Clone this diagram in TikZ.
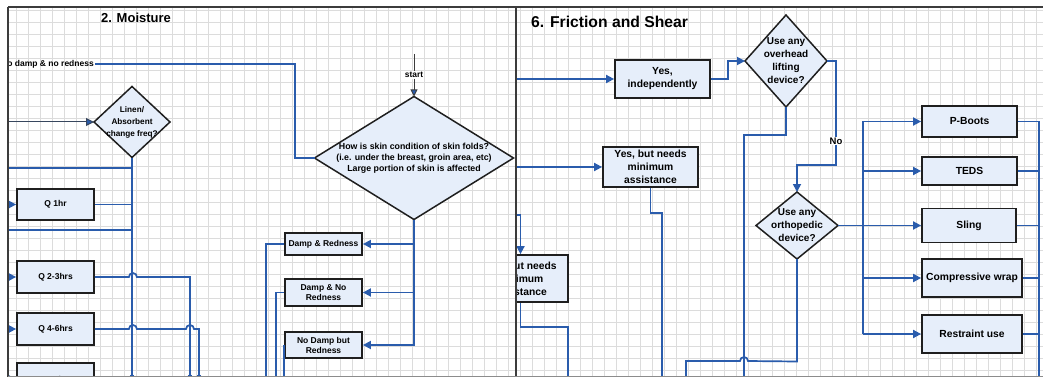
\documentclass[tikz,border=0pt]{standalone}
\usepackage{fontspec}
\setmainfont{Liberation Sans}
\usetikzlibrary{arrows.meta,shapes.geometric}
\definecolor{lnc}{RGB}{42,92,172}
\definecolor{bxc}{RGB}{230,238,250}
\definecolor{grc}{RGB}{220,220,220}
\definecolor{frc}{RGB}{60,60,60}
\begin{document}
\begin{tikzpicture}[x=1pt,y=-1pt,
  box/.style={draw=black!88,line width=1.8pt,fill=bxc,inner sep=0pt,align=center,font=\bfseries\fontsize{8.5}{10}\selectfont},
  rbox/.style={box,font=\bfseries\fontsize{10.3}{13}\selectfont},
  dia/.style={diamond,draw=black!88,line width=1.5pt,fill=bxc,inner sep=0pt,outer sep=0pt},
  lnk/.style={draw=lnc,line width=1.7pt},
  arr/.style={lnk,-{Triangle[length=8pt,width=8pt]}},
  dlab/.style={align=center,font=\bfseries\fontsize{10}{13}\selectfont},
  tag/.style={fill=white,inner sep=1pt,font=\bfseries\fontsize{8.4}{10}\selectfont},
  dot/.style={circle,fill=lnc,inner sep=0pt,minimum size=5pt}
]
\useasboundingbox (0,0) rectangle (1043,377);
\fill[white] (0,0) rectangle (1043,377);
% grid
\begin{scope}
\clip (8,7) rectangle (1043,377);
\foreach \gx in {0,12,...,1043} \draw[grc,line width=0.6pt] (\gx+4,7) -- (\gx+4,377);
\foreach \gy in {0,12,...,377} \draw[grc,line width=0.6pt] (8,\gy+10) -- (1043,\gy+10);
\end{scope}

% ---------------- left panel ----------------
\begin{scope}
\clip (8,7) rectangle (516,377);
\node[font=\bfseries\fontsize{13}{15}\selectfont] (t2) at (136,18) {2. Moisture};
\node[anchor=east,inner sep=1pt,font=\bfseries\fontsize{8.5}{10}\selectfont] (nodamp) at (95,64) {o damp \& no redness};

\node[dia,minimum width=76,minimum height=71,
  label={[align=center,font=\bfseries\fontsize{8.2}{12}\selectfont]center:{Linen/\\Absorbent\\change freq?}}] (lin) at (132,122) {};
\node[dia,minimum width=199,minimum height=123,
  label={[align=center,font=\bfseries\fontsize{8.8}{11}\selectfont]center:{How is skin condition of skin folds?\\(i.e. under the breast, groin area, etc)\\Large portion of skin is affected}}] (sk) at (414,158) {};

\coordinate (st0) at (414,54);
\node[tag] (start) at (414,75) {start};
\draw[frc,line width=0.9pt] (st0) -- (start.north);
\draw[frc,line width=0.9pt,-{Triangle[length=7pt,width=7pt,fill=lnc]}] (start.south) -- (sk.north);

\draw[lnk] (nodamp.east) -- ++(200,0) |- (sk.west);

\node[box,minimum width=77,minimum height=31] (q1) at (55.5,204.5) {Q 1hr};
\node[box,minimum width=77,minimum height=32] (q23) at (55.5,277) {Q 2-3hrs};
\node[box,minimum width=77,minimum height=32] (q46) at (55.5,329) {Q 4-6hrs};
\node[box,minimum width=77,minimum height=32] (q78) at (55.5,379) {> 7-8hrs};

\node[box,minimum width=77,minimum height=22] (dr) at (323.5,244) {Damp \& Redness};
\node[box,minimum width=77,minimum height=27] (dnr) at (323.5,292.5) {Damp \& No\\Redness};
\node[box,minimum width=77,minimum height=26] (ndr) at (323.5,345) {No Damp but\\Redness};

\coordinate (l122) at (8,122);
\coordinate (h168) at (8,168);
\coordinate (h230) at (8,230);
\coordinate (a1) at (8,204.5);
\coordinate (a2) at (8,277);
\coordinate (a3) at (8,329);
\coordinate (a4) at (8,379);
\coordinate (b132) at (132,382);
\coordinate (b190) at (190,382);
\coordinate (b199) at (199,382);
\coordinate (b266) at (266,382);
\coordinate (b276) at (276,382);

\draw[draw=frc!70!lnc,line width=1pt,-{Triangle[length=8pt,width=8pt,fill=lnc]}] (l122) -- (lin.west);
\draw[lnk] (lin.south) -- (b132);
\draw[lnk,line width=2.5pt] (lin.south) -- (lin.south |- h230);
\draw[lnk,line width=2.5pt] (h168) -- (lin.south |- h168);
\draw[lnk,line width=2.5pt] (h230) -- (lin.south |- h230);

\draw[arr] (a1) -- (q1.west);
\draw[arr] (a2) -- (q23.west);
\draw[arr] (a3) -- (q46.west);
\draw[arr] (a4) -- (q78.west);

\draw[lnk] (q1.east) -- (q1.east -| lin.south);
\draw[lnk] (q23.east) -- ++(34,0) arc(180:360:4) -| (b190);
\draw[lnk] (q46.east) -- ++(34,0) arc(180:360:4) -- (186,329) arc(180:360:4) -| (b199);

\node[dot] at (132,377) {};
\node[dot] at (190,377) {};
\node[dot] at (199,377) {};

\draw[arr] (sk.south) |- (ndr.east);
\draw[arr] (sk.south |- dr.east) -- (dr.east);
\draw[arr] (sk.south |- dnr.east) -- (dnr.east);

\draw[lnk] (dr.west) -| (b266);
\draw[lnk] (dnr.west) -| (b276);
\draw[lnk] (ndr.west) -- (ndr.west |- b266);
\end{scope}

% ---------------- right panel ----------------
\begin{scope}
\clip (516,7) rectangle (1043,377);
\node[anchor=base west,inner sep=0pt,font=\bfseries\fontsize{15.7}{18}\selectfont] (t6) at (531,28) {6. Friction and Shear};

\node[rbox,minimum width=95,minimum height=38] (yi) at (662.5,79) {Yes,\\independently};
\node[rbox,minimum width=95,minimum height=40] (ym) at (650.5,167) {Yes, but needs\\minimum\\assistance};
\node[rbox,minimum width=95,minimum height=47] (yb) at (520.5,278.5) {Yes, but needs\\minimum\\assistance};

\node[dia,minimum width=82,minimum height=92,
  label={[dlab]center:{Use any\\overhead\\lifting\\device?}}] (ov) at (786,61) {};
\node[dia,minimum width=82,minimum height=67,
  label={[dlab]center:{Use any\\orthopedic\\device?}}] (or) at (797,225.5) {};

\node[rbox,minimum width=95,minimum height=31] (pb) at (969.5,121.5) {P-Boots};
\node[rbox,minimum width=95,minimum height=28] (td) at (969.5,171) {TEDS};
\node[rbox,minimum width=94,minimum height=34] (sl) at (969,225.5) {Sling};
\node[rbox,minimum width=100,minimum height=38] (cw) at (972,278) {Compressive wrap};
\node[rbox,minimum width=100,minimum height=38] (ru) at (972,334) {Restraint use};

\coordinate (r79) at (516,79);
\coordinate (r167) at (516,167);
\coordinate (r215) at (516,215);
\coordinate (k165) at (836,165);
\coordinate (k135) at (744,135);
\coordinate (b744) at (744,382);
\coordinate (b662) at (662,382);
\coordinate (b568) at (568,382);
\coordinate (b686) at (686,382);
\coordinate (tr) at (863,0);
\coordinate (rb) at (1039,382);

\draw[arr] (r79) -- (yi.west);
\draw[arr] (r167) -- (ym.west);
\draw[arr] (r215) -| (yb.north);
\draw[arr] (yi.east) -- ++(17,0) |- (ov.west);
\draw[arr] (ov.east) -| (k165) -| (or.north);
\node[tag,font=\bfseries\fontsize{9.5}{11}\selectfont] (no) at (836,141) {No};
\draw[lnk] (ov.south) |- (k135) -- (b744);
\draw[lnk] (ym.south) -- ++(0,25) -| (b662);
\draw[lnk] (yb.south) -- ++(0,24) -| (b568);
\draw[lnk] (or.south) -- ++(0,102.5) -- (748,361) arc(0:-180:4) -| (b686);

\draw[arr] (or.east) -- (sl.west);
\draw[lnk] (tr |- pb.west) -- (tr |- ru.west);
\draw[arr] (tr |- pb.west) -- (pb.west);
\draw[arr] (tr |- td.west) -- (td.west);
\draw[arr] (tr |- cw.west) -- (cw.west);
\draw[arr] (tr |- ru.west) -- (ru.west);

\draw[lnk] (pb.east) -| (rb);
\draw[lnk] (td.east) -- (td.east -| rb);
\draw[lnk] (sl.east) -- (sl.east -| rb);
\draw[lnk] (cw.east) -- (cw.east -| rb);
\draw[lnk] (ru.east) -- (ru.east -| rb);
\end{scope}

% frame
\draw[frc,line width=1.3pt] (8,7) -- (1043,7);
\draw[frc,line width=1.3pt] (8,7) -- (8,377);
\draw[frc,line width=1.6pt] (516,7) -- (516,377);
\draw[black!45,line width=1pt] (8,376.5) -- (1043,376.5);
\end{tikzpicture}
\end{document}
